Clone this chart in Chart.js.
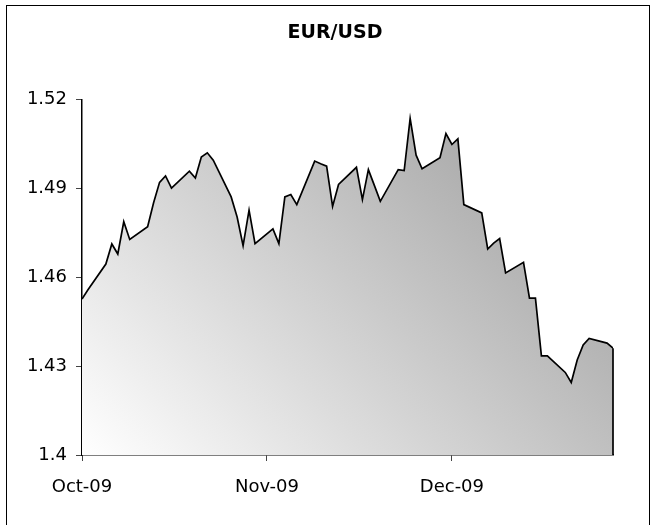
<!DOCTYPE html>
<html lang="en">
<head>
  <meta charset="UTF-8" />
  <title>EUR/USD</title>
  <script src="https://cdn.jsdelivr.net/npm/chart.js"></script>
  <style>
    html, body { margin: 0; padding: 0; background: #ffffff; overflow: hidden; }
    #wrap { width: 657px; height: 525px; }
  </style>
</head>
<body>
  <div id="wrap"><canvas id="fxChart" width="657" height="525"></canvas></div>

  <script>
    // daily closes
    const dates = [
      '2009-10-01','2009-10-02','2009-10-05','2009-10-06','2009-10-07','2009-10-08','2009-10-09',
      '2009-10-12','2009-10-13','2009-10-14','2009-10-15','2009-10-16','2009-10-19','2009-10-20',
      '2009-10-21','2009-10-22','2009-10-23','2009-10-26','2009-10-27','2009-10-28','2009-10-29',
      '2009-10-30','2009-11-02','2009-11-03','2009-11-04','2009-11-05','2009-11-06','2009-11-09',
      '2009-11-10','2009-11-11','2009-11-12','2009-11-13','2009-11-16','2009-11-17','2009-11-18',
      '2009-11-19','2009-11-20','2009-11-23','2009-11-24','2009-11-25','2009-11-26','2009-11-27',
      '2009-11-30','2009-12-01','2009-12-02','2009-12-03','2009-12-04','2009-12-07','2009-12-08',
      '2009-12-09','2009-12-10','2009-12-11','2009-12-14','2009-12-15','2009-12-16','2009-12-17',
      '2009-12-18','2009-12-21','2009-12-22','2009-12-23','2009-12-24','2009-12-25','2009-12-28',
      '2009-12-29'
    ];
    const rates = [
      1.4527, 1.4558, 1.4645, 1.4713, 1.4679, 1.4788, 1.4728,
      1.4771, 1.4852, 1.4921, 1.4943, 1.4902, 1.4959, 1.4936,
      1.5007, 1.5021, 1.4996, 1.4872, 1.4804, 1.4707, 1.4827,
      1.4714, 1.4764, 1.4714, 1.4872, 1.4880, 1.4846, 1.4993,
      1.4984, 1.4976, 1.4840, 1.4914, 1.4972, 1.4863, 1.4964,
      1.4911, 1.4857, 1.4964, 1.4961, 1.5137, 1.5013, 1.4967,
      1.5004, 1.5086, 1.5049, 1.5068, 1.4846, 1.4818, 1.4696,
      1.4716, 1.4731, 1.4615, 1.4651, 1.4530, 1.4530, 1.4335,
      1.4335, 1.4279, 1.4245, 1.4321, 1.4372, 1.4394, 1.4378,
      1.4361
    ];
    const xTickDates = ['2009-10-01', '2009-11-01', '2009-12-02'];
    const xTickLabels = ['Oct-09', 'Nov-09', 'Dec-09'];
    const yTicks = [1.4, 1.43, 1.46, 1.49, 1.52];

    const dayOf = d => Math.round((Date.parse(d) - Date.parse(dates[0])) / 86400000);
    const points = dates.map((d, i) => ({ x: dayOf(d), y: rates[i] }));
    const xTicks = xTickDates.map(dayOf);

    const FONT = 'DejaVu Sans';

    // outer frame + closing edge of the area at the last point
    const framePlugin = {
      id: 'frame',
      beforeDraw(chart) {
        const ctx = chart.ctx;
        ctx.save();
        ctx.strokeStyle = '#000';
        ctx.lineWidth = 1;
        ctx.strokeRect(6.5, 5.5, 643, 600);
        ctx.restore();
      },
      afterDatasetsDraw(chart) {
        const ctx = chart.ctx;
        const pts = chart.getDatasetMeta(0).data;
        const last = pts[pts.length - 1];
        const base = chart.scales.y.getPixelForValue(chart.scales.y.min);
        ctx.save();
        ctx.strokeStyle = '#000';
        ctx.lineWidth = 1.7;
        ctx.beginPath();
        ctx.moveTo(last.x, last.y);
        ctx.lineTo(last.x, base);
        ctx.stroke();
        ctx.restore();
      }
    };

    function areaFill(context) {
      const area = context.chart.chartArea;
      if (!area) return '#dddddd';
      const span = (area.right - area.left + area.bottom - area.top) / 2;
      const g = context.chart.ctx.createLinearGradient(area.left, area.bottom, area.left + span, area.bottom - span);
      g.addColorStop(0, '#ffffff');
      g.addColorStop(1, '#969696');
      return g;
    }

    new Chart(document.getElementById('fxChart'), {
      type: 'line',
      data: {
        datasets: [{
          label: 'EUR/USD',
          data: points,
          borderColor: '#000000',
          borderWidth: 1.7,
          backgroundColor: areaFill,
          fill: 'start',
          pointRadius: 0,
          tension: 0
        }]
      },
      options: {
        responsive: false,
        animation: false,
        // negative right padding + empty right axis: keeps the plot where it is and centres the title like the original
        layout: { padding: { left: 0, right: -13, top: 0, bottom: 0 } },
        plugins: {
          legend: { display: false },
          tooltip: { enabled: false },
          title: {
            display: true,
            text: 'EUR/USD',
            color: '#000',
            font: { family: FONT, size: 19, weight: 'bold' },
            padding: { top: 22, bottom: 55 }
          }
        },
        scales: {
          x: {
            type: 'linear',
            min: 0,
            max: points[points.length - 1].x,
            afterBuildTicks: s => { s.ticks = xTicks.map(v => ({ value: v })); },
            afterFit: s => { s.height = 70; },
            ticks: {
              color: '#000',
              font: { family: FONT, size: 18 },
              padding: 16,
              maxRotation: 0,
              autoSkip: false,
              callback: (v) => xTickLabels[xTicks.indexOf(v)]
            },
            grid: { drawOnChartArea: false, drawTicks: true, tickLength: 6, color: '#444' },
            border: { display: true, color: '#000', width: 1.5 }
          },
          y: {
            min: 1.4,
            max: 1.52,
            afterBuildTicks: s => { s.ticks = yTicks.map(v => ({ value: v })); },
            afterFit: s => { s.width = 82; },
            ticks: {
              color: '#000',
              font: { family: FONT, size: 18 },
              padding: 9,
              callback: v => String(+v.toFixed(2))
            },
            grid: { drawOnChartArea: false, drawTicks: true, tickLength: 6, color: '#444' },
            border: { display: true, color: '#000', width: 1.5 }
          },
          spacer: {
            position: 'right',
            ticks: { display: false },
            grid: { display: false },
            border: { display: false },
            afterFit: s => { s.width = 57; }
          }
        }
      },
      plugins: [framePlugin]
    });
  </script>
</body>
</html>
